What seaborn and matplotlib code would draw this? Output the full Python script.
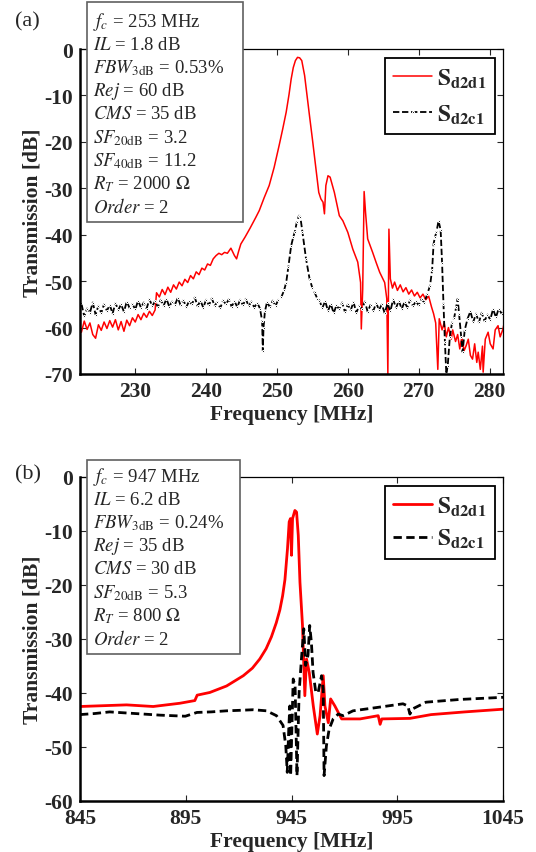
import matplotlib
matplotlib.use("Agg")
import matplotlib.pyplot as plt
import seaborn as sns
from matplotlib.patches import Rectangle

# ---------------- data ----------------
# (a) 253 MHz filter: differential transmission S_d2d1
freq_a_dd = [
    222.0, 222.4, 222.8, 223.2, 223.6, 224.0, 224.4, 224.8, 225.2, 225.6,
    226.0, 226.4, 226.8, 227.2, 227.6, 228.0, 228.4, 228.8, 229.2, 229.6,
    230.0, 230.4, 230.8, 231.2, 231.6, 232.0, 232.4, 232.8, 233.0, 233.4,
    233.8, 234.2, 234.6, 235.0, 235.4, 235.8, 236.2, 236.6, 237.0, 237.4,
    237.8, 238.2, 238.6, 239.0, 239.4, 239.8, 240.2, 240.6, 241.0, 241.4,
    241.8, 242.2, 242.6, 243.0, 243.5, 244.0, 244.3, 244.6, 244.9, 245.5,
    246.2, 247.0, 247.5, 248.2, 248.9, 249.6, 250.3, 250.8, 251.3, 251.7,
    252.0, 252.3, 252.6, 252.9, 253.2, 253.5, 253.9, 254.3, 254.6, 255.0,
    255.5, 255.9, 256.2, 256.5, 256.7, 256.9, 257.2, 257.5, 258.1, 258.8,
    259.3, 260.0, 260.7, 261.4, 261.8, 261.9, 262.1, 262.3, 262.5, 262.8,
    263.5, 264.0, 264.5, 265.2, 265.5, 265.65, 265.8, 266.0, 266.3, 266.6,
    267.0, 267.4, 267.8, 268.2, 268.6, 269.0, 269.4, 269.8, 270.2, 270.6,
    271.0, 271.4, 271.8, 272.1, 272.4, 272.7, 272.9, 273.3, 273.6, 273.9,
    274.2, 274.6, 274.8, 275.2, 275.5, 275.8, 276.1, 276.4, 276.7, 277.0,
    277.3, 277.6, 277.9, 278.2, 278.4, 278.7, 279.0, 279.1, 279.4, 279.8,
    280.1, 280.5, 280.8, 281.2, 281.5, 281.9, 282.0]
s_a_dd = [
    -59.5, -61.0, -58.6, -60.4, -59.0, -61.5, -62.3, -59.4, -60.6, -58.8,
    -60.2, -58.5, -59.9, -58.3, -60.5, -58.7, -60.8, -58.4, -59.6, -57.9,
    -58.8, -57.2, -58.3, -56.9, -57.8, -56.5, -57.4, -56.2, -52.5, -53.4,
    -51.8, -52.9, -51.3, -52.4, -50.8, -51.7, -50.2, -51.0, -49.6, -50.3,
    -48.8, -49.5, -48.0, -48.6, -47.2, -47.6, -46.3, -46.6, -45.2, -44.5,
    -44.0, -44.3, -43.8, -44.0, -42.9, -44.5, -45.2, -43.5, -42.0, -40.5,
    -38.6, -36.3, -34.8, -32.0, -29.4, -25.5, -20.8, -17.3, -13.6, -9.8,
    -6.5, -4.0, -2.5, -1.8, -1.9, -2.5, -5.7, -10.8, -14.5, -19.4,
    -25.8, -30.9, -32.3, -33.0, -35.5, -29.4, -27.3, -27.6, -30.9, -35.9,
    -37.0, -39.5, -43.1, -45.9, -50.3, -60.3, -51.7, -30.7, -35.2, -40.9,
    -43.8, -46.0, -48.1, -50.3, -53.8, -70.0, -38.8, -49.5, -51.5, -50.2,
    -52.0, -50.8, -52.3, -51.4, -52.8, -51.9, -53.2, -52.4, -53.6, -52.8,
    -54.0, -53.2, -55.5, -57.0, -59.0, -69.0, -58.1, -60.5, -59.0, -62.0,
    -60.0, -62.5, -60.5, -63.0, -61.5, -64.6, -62.0, -65.0, -63.9, -62.5,
    -66.0, -66.8, -63.5, -67.5, -65.3, -69.0, -64.0, -69.6, -62.5, -61.0,
    -63.5, -64.6, -60.5, -59.6, -62.0, -60.3, -59.5]

# (a) mixed-mode transmission S_d2c1
freq_a_dc = [
    222.0, 222.4, 222.8, 223.2, 223.6, 224.0, 224.4, 224.8, 225.2, 225.6,
    226.0, 226.4, 226.8, 227.2, 227.6, 228.0, 228.4, 228.8, 229.2, 229.6,
    230.0, 230.4, 230.8, 231.2, 231.6, 232.0, 232.4, 232.8, 233.2, 233.6,
    234.0, 234.4, 234.8, 235.2, 235.6, 236.0, 236.4, 236.8, 237.2, 237.6,
    238.0, 238.4, 238.8, 239.2, 239.6, 240.0, 240.4, 240.8, 241.2, 241.6,
    242.0, 242.4, 242.8, 243.2, 243.6, 244.0, 244.4, 244.8, 245.2, 245.6,
    246.0, 246.4, 246.8, 247.2, 247.6, 247.9, 248.0, 248.1, 248.3, 248.6,
    249.0, 249.4, 249.8, 250.2, 250.6, 251.0, 251.3, 251.6, 252.0, 252.3,
    252.5, 252.8, 253.1, 253.3, 253.6, 254.1, 254.6, 255.0, 255.3, 255.7,
    256.0, 256.4, 256.8, 257.2, 257.6, 258.0, 258.4, 258.8, 259.2, 259.6,
    260.0, 260.4, 260.8, 261.2, 261.6, 262.0, 262.4, 262.8, 263.2, 263.6,
    264.0, 264.4, 264.8, 265.2, 265.6, 266.0, 266.4, 266.8, 267.2, 267.6,
    268.0, 268.4, 268.8, 269.2, 269.6, 270.0, 270.4, 270.8, 271.2, 271.6,
    271.9, 272.1, 272.3, 272.5, 272.8, 273.1, 273.3, 273.5, 273.7, 273.9,
    274.1, 274.4, 274.7, 275.0, 275.3, 275.5, 275.7, 276.0, 276.2, 276.5,
    276.9, 277.3, 277.7, 278.1, 278.5, 278.9, 279.3, 279.7, 280.1, 280.5,
    280.9, 281.3, 281.7, 282.0]
s_a_dc = [
    -56.5, -54.8, -57.6, -55.9, -56.8, -54.6, -57.2, -55.3, -56.9, -54.9,
    -56.4, -55.1, -57.0, -54.7, -56.2, -55.0, -56.6, -54.4, -55.8, -54.9,
    -56.1, -54.2, -55.7, -54.6, -55.9, -53.9, -55.4, -54.3, -55.6, -54.0,
    -55.3, -53.8, -55.5, -54.4, -55.1, -53.6, -55.2, -54.1, -55.6, -54.3,
    -55.0, -53.5, -55.4, -54.2, -55.7, -54.0, -55.2, -53.7, -55.3, -54.5,
    -55.8, -54.1, -55.0, -53.9, -55.5, -54.3, -55.6, -54.0, -55.2, -53.8,
    -55.4, -54.4, -55.7, -54.6, -55.9, -58.5, -65.0, -60.0, -56.5, -54.5,
    -55.6, -54.2, -55.3, -54.0, -53.5, -52.0, -50.3, -47.0, -42.4, -40.5,
    -39.5, -37.3, -35.9, -36.2, -39.5, -45.2, -49.5, -51.5, -52.4, -53.8,
    -54.2, -55.8, -54.3, -56.4, -54.9, -56.9, -55.2, -56.1, -54.6, -56.7,
    -55.0, -56.3, -54.5, -56.8, -55.3, -56.0, -54.4, -56.6, -55.1, -56.4,
    -54.7, -56.2, -55.0, -56.9, -54.8, -56.5, -53.9, -55.8, -54.2, -56.0,
    -54.5, -55.7, -54.0, -55.4, -54.3, -55.2, -53.9, -54.6, -52.8, -51.0,
    -47.5, -42.0, -40.5, -39.5, -37.0, -39.0, -46.0, -55.0, -63.0, -70.0,
    -68.2, -62.0, -59.0, -58.0, -55.5, -53.8, -57.0, -62.0, -65.3, -60.5,
    -58.1, -56.5, -58.8, -57.0, -58.9, -56.8, -58.6, -57.2, -58.3, -56.0,
    -57.8, -55.9, -57.0, -56.2]

# (b) 947 MHz filter
freq_b_dd = [845, 867, 879.6, 892.2, 899.3, 900.4, 906.4, 914.3, 922.2, 926.5,
             930, 933, 935.5, 937.8, 939.5, 940.8, 941.9, 943.1, 943.9, 944.5,
             945, 945.5, 946.6, 947.4, 948.2, 949, 950.2, 951.3, 952.1, 953.4,
             955.3, 957.2, 958.5, 960, 960.8, 962.4, 963.5, 965.5, 968.7, 972.6,
             977.4, 986, 986.9, 987.7, 1001, 1011, 1027, 1045]
s_b_dd = [-42.5, -42.2, -42.5, -41.9, -41.4, -40.4, -39.9, -38.7, -36.8, -35.4,
          -33.7, -31.8, -29.6, -27.0, -24.6, -22.0, -19.0, -13.3, -8.3, -7.7,
          -14.5, -7.7, -6.2, -6.5, -10.8, -19.5, -27.5, -40.5, -33.7, -36.2,
          -42.4, -47.6, -44.2, -36.8, -42.4, -45.5, -41.1, -42.4, -44.8, -44.8,
          -44.8, -44.2, -45.8, -44.8, -44.7, -44.0, -43.5, -43.0]

freq_b_dc = [845, 852, 859, 867, 875, 882.8, 894.8, 900.3, 907, 914.3, 921,
             926.9, 933.2, 937.9, 941, 942.3, 943, 943.7, 944.2, 944.6, 945.8,
             946.7, 947.6, 948.6, 949.7, 950.8, 951.7, 952.8, 953.6, 954.4,
             955.2, 956.5, 957.6, 959.2, 960, 960.4, 961.5, 962.8, 964.7, 967.1,
             969.4, 974.1, 985.1, 997.7, 1000, 1001, 1002, 1008.6, 1024.4, 1045]
s_b_dc = [-44.0, -43.8, -43.5, -43.7, -43.9, -44.1, -44.3, -43.6, -43.5, -43.3,
          -43.2, -43.1, -43.3, -44.2, -46.0, -49.8, -54.7, -46.7, -42.4, -55.3,
          -37.4, -38.7, -55.3, -39.9, -33.7, -28.1, -34.9, -33.0, -27.5, -30.6,
          -36.2, -39.9, -39.9, -36.8, -39.3, -55.3, -49.8, -46.7, -44.8, -43.9,
          -44.2, -43.3, -42.7, -42.0, -42.4, -43.9, -43.0, -41.7, -41.2, -40.8]

info_a = [r"$f_c$ = 253 MHz", r"$IL$ = 1.8 dB", r"$FBW_{\mathrm{3dB}}$ = 0.53%",
          r"$Rej$ = 60 dB", r"$CMS$ = 35 dB", r"$SF_{\mathrm{20dB}}$ = 3.2",
          r"$SF_{\mathrm{40dB}}$ = 11.2", r"$R_T$ = 2000 $\Omega$", r"$Order$ = 2"]
info_b = [r"$f_c$ = 947 MHz", r"$IL$ = 6.2 dB", r"$FBW_{\mathrm{3dB}}$ = 0.24%",
          r"$Rej$ = 35 dB", r"$CMS$ = 30 dB", r"$SF_{\mathrm{20dB}}$ = 5.3",
          r"$R_T$ = 800 $\Omega$", r"$Order$ = 2"]

lbl_dd = r"$\mathbf{S_{d2d1}}$"
lbl_dc = r"$\mathbf{S_{d2c1}}$"

# ---------------- style ----------------
sns.set_style("ticks")
plt.rcParams['font.family'] = ['Liberation Serif', 'DejaVu Serif']
plt.rcParams['mathtext.fontset'] = 'stix'
plt.rcParams['axes.unicode_minus'] = False

W, H = 536, 853
fig = plt.figure(figsize=(W / 100, H / 100), dpi=100)


def px_axes(l, t, r, b):
    return fig.add_axes([l / W, 1 - b / H, (r - l) / W, (b - t) / H])


def style_axes(ax):
    ax.tick_params(direction='in', length=4, width=0.8, top=True, right=True,
                   labelsize=15.5, pad=5)
    for lab in ax.get_xticklabels() + ax.get_yticklabels():
        lab.set_fontweight('bold')
    for side in ['left', 'bottom']:
        ax.spines[side].set_linewidth(1.8)
    for side in ['top', 'right']:
        ax.spines[side].set_linewidth(0.9)
    for sp in ax.spines.values():
        sp.set_color('black')
        sp.set_visible(True)
    ax.set_xlabel("Frequency [MHz]", fontsize=15.5, fontweight='bold', labelpad=2)
    ax.set_ylabel("Transmission [dB]", fontsize=15.5, fontweight='bold', labelpad=1)


def add_legend(ax, spacing):
    leg = ax.legend(loc='upper right', bbox_to_anchor=(0.98, 0.972), borderaxespad=0,
                    fontsize=17, frameon=True, fancybox=False, edgecolor='black',
                    framealpha=1, handlelength=1.65, handletextpad=0.2,
                    borderpad=0.35, labelspacing=spacing)
    leg.get_frame().set_linewidth(1.3)


def info_box(lines, top, bottom, right, first):
    fig.patches.append(Rectangle((87 / W, 1 - bottom / H), (right - 87) / W,
                                 (bottom - top) / H, transform=fig.transFigure,
                                 facecolor='white', edgecolor='#606060', lw=1.2,
                                 zorder=5))
    for i, s in enumerate(lines):
        fig.text(93 / W, 1 - (first + 23.2 * i) / H, s, fontsize=13.5,
                 va='center', ha='left', zorder=6)


# ---------------- (a) ----------------
ax1 = px_axes(80, 50, 503, 375)
sns.lineplot(x=freq_a_dd, y=s_a_dd, ax=ax1, color='red', lw=1.1,
             estimator=None, sort=False, label=lbl_dd)
sns.lineplot(x=freq_a_dc, y=s_a_dc, ax=ax1, color='black', lw=1.3,
             linestyle=(0, (3.5, 1.5)), marker='.', markersize=3,
             estimator=None, sort=False, label=lbl_dc)
ax1.set_xlim(222.2, 281.9)
ax1.set_ylim(-70, 0)
ax1.set_xticks([230, 240, 250, 260, 270, 280])
ax1.set_yticks(range(-70, 1, 10))
style_axes(ax1)
add_legend(ax1, 0.55)
fig.text(15 / W, 1 - 22 / H, "(a)", fontsize=16, va='center')
info_box(info_a, 3, 223, 243, 22)

# ---------------- (b) ----------------
ax2 = px_axes(80, 478, 503, 802)
sns.lineplot(x=freq_b_dd, y=s_b_dd, ax=ax2, color='red', lw=2.0,
             estimator=None, sort=False, label=lbl_dd)
sns.lineplot(x=freq_b_dc, y=s_b_dc, ax=ax2, color='black', lw=2.0,
             linestyle=(0, (3, 1.6)), estimator=None, sort=False, label=lbl_dc)
ax2.set_xlim(845, 1045)
ax2.set_ylim(-60, 0)
ax2.set_xticks([845, 895, 945, 995, 1045])
ax2.set_yticks(range(-60, 1, 10))
style_axes(ax2)
add_legend(ax2, 0.4)
fig.text(15 / W, 1 - 475 / H, "(b)", fontsize=16, va='center')
info_box(info_b, 461, 655, 240, 477)

fig.savefig("out.png", dpi=100)
